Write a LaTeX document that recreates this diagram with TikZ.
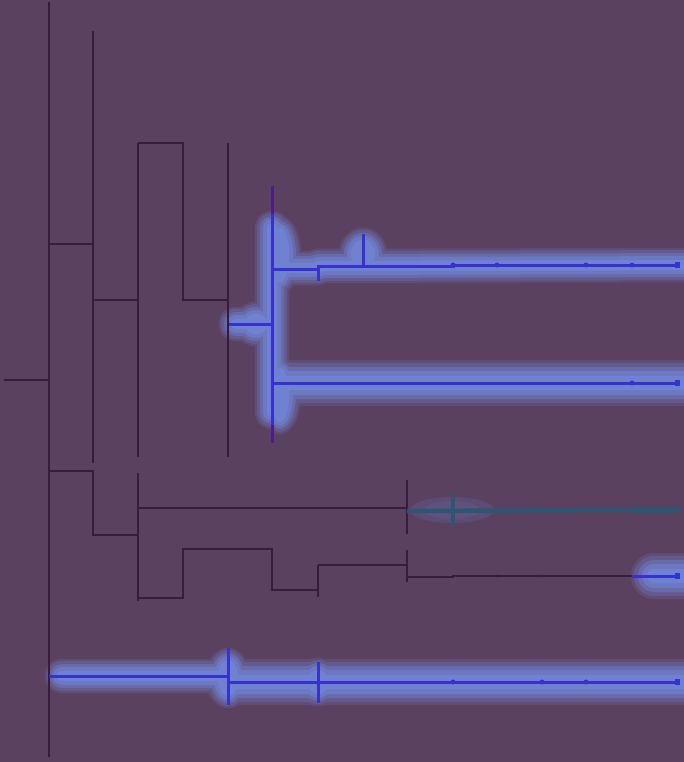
\documentclass[tikz,border=0pt]{standalone}
\usetikzlibrary{calc}
\definecolor{bgc}{RGB}{91,65,96}
\definecolor{darkc}{RGB}{55,28,62}
\definecolor{bluec}{RGB}{55,50,205}
\definecolor{glowc}{RGB}{118,150,242}
\definecolor{tealc}{RGB}{44,86,116}
\definecolor{purpc}{RGB}{78,26,140}
\tikzset{
  dk/.style={draw=darkc, line width=1.8pt},
  bl/.style={draw=bluec, line width=3pt},
  dotb/.style={fill=bluec, draw=none},
  gl/.style={glowc, line cap=round, line join=round},
}
\newcommand\glowlayer[2]{%
\pgfmathsetmacro\wa{#1}%
\pgfmathsetmacro\wb{0.75*#1}%
\begin{scope}[transparency group, opacity=#2]
\draw[gl, line width=\wb pt] (236,324) -- (272,324);
\draw[gl, line width=\wb pt] (272,228) -- (272,412);
\draw[gl, line width=\wb pt] (282,268) -- (318,268) -- (318,266) -- (720,265);
\draw[gl, line width=\wa pt] (284,383) -- (720,383);
\draw[gl, line width=\wb pt] (62,676) -- (228,676);
\draw[gl, line width=\wa pt] (228,682) -- (720,682);
\draw[gl, line width=\wa pt] (654,576) -- (720,576);
\fill[glowc] (363,254) ellipse ({7+\wb/2} and {9+\wb/2});
\fill[glowc] (228,678) ellipse ({5+\wb/2} and {13+\wb/2});
\fill[glowc] (318,682) ellipse ({5+\wb/2} and {7+\wb/2});
\fill[glowc] (256,324) ellipse ({6+\wb/2} and {5+\wb/2});
\fill[glowc] (280,255) ellipse ({4+\wb/2} and {22+\wb/2});
\fill[glowc] (280,395) ellipse ({4+\wb/2} and {22+\wb/2});
\end{scope}}
\begin{document}
\begin{tikzpicture}[x=1pt,y=-1pt]
\fill[bgc] (0,0) rectangle (684,762);
\useasboundingbox (0,0) rectangle (684,762);
% ---------- glows ----------
\glowlayer{46}{0.15}
\glowlayer{40}{0.2}
\glowlayer{32}{0.27}
\glowlayer{24}{0.33}
\glowlayer{14}{0.35}
% faint glow on teal line
\fill[glowc, fill opacity=0.12] (452,510) ellipse (42 and 13);
\fill[glowc, fill opacity=0.1] (452,510) ellipse (28 and 9);
% ---------- dark tree ----------
\draw[dk] (49,2) -- (49,757);
\draw[dk] (4,380) -- (49,380);
\draw[dk] (49,244) -- (93,244);
\draw[dk] (93,31) -- (93,463);
\draw[dk] (93,300) -- (138,300);
\draw[dk] (138,143) -- (138,457);
\draw[dk] (138,143) -- (183,143) -- (183,300) -- (228,300);
\draw[dk] (228,143) -- (228,457);
% lower group
\draw[dk] (49,471) -- (93,471) -- (93,535) -- (138,535);
\draw[dk] (138,473) -- (138,601);
\draw[dk] (138,508) -- (407,508);
\draw[dk] (407,480) -- (407,534);
\draw[dk] (138,598) -- (183,598) -- (183,549) -- (272,549) -- (272,590) -- (318,590);
\draw[dk] (318,565) -- (318,597);
\draw[dk] (318,565) -- (407,565);
\draw[dk] (407,550) -- (407,582);
\draw[dk] (407,577) -- (453,577) -- (453,576) -- (632,576);
\foreach \x in {497,542} \fill[darkc] (\x,576) circle (1.6);
% ---------- blue lines ----------
\draw[bl] (229,324) -- (272,324);
\draw[draw=purpc, line width=3pt] (272,186) -- (272,443);
\draw[bl] (272,214) -- (272,425);
\draw[bl] (272,269) -- (318,269);
\draw[bl] (318,265) -- (318,281);
\draw[bl] (318,266) -- (453,266) -- (453,265) -- (678,265);
\draw[bl] (363,234) -- (363,268);
\foreach \x in {453,497,586,632} \fill[dotb] (\x,265) circle (2.5);
\fill[dotb] (675,262) rectangle (680,268);
\draw[bl] (272,383) -- (678,383);
\fill[dotb] (632,383) circle (2.5);
\fill[dotb] (675,380) rectangle (680,386);
% teal line
\draw[draw=tealc, line width=4.5pt] (407,511) -- (632,510);
\draw[draw=tealc, line width=6pt] (632,510) -- (680,510);
\draw[draw=tealc, line width=4pt] (453,494) -- (453,526);
% lower right blue
\draw[bl] (632,576) -- (678,576);
\fill[dotb] (675,573) rectangle (680,579);
% bottom
\draw[bl] (49,676) -- (228,676);
\draw[bl] (228,648) -- (228,705);
\draw[bl] (228,682) -- (678,682);
\draw[bl] (318,662) -- (318,703);
\foreach \x in {453,542,586} \fill[dotb] (\x,682) circle (2.5);
\fill[dotb] (675,679) rectangle (680,685);
\end{tikzpicture}
\end{document}
